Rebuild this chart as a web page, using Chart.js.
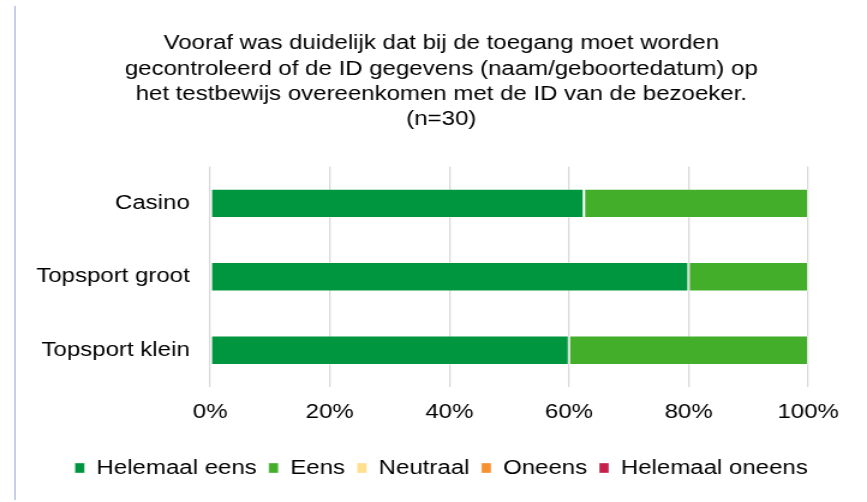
<!DOCTYPE html>
<html lang="nl">
<head>
<meta charset="utf-8">
<title>Toegangscontrole ID</title>
<script src="https://cdn.jsdelivr.net/npm/chart.js@4.4.1/dist/chart.umd.min.js"></script>
<style>
  html, body { margin: 0; padding: 0; background: #fff; overflow: hidden; }
  #wrap { position: relative; width: 867px; height: 502px; }
  /* het origineel is horizontaal iets uitgerekt; canvas op 722 breed tekenen en rekken naar 867 */
  #grafiek { width: 867px !important; height: 502px !important; display: block; }
</style>
</head>
<body>
<div id="wrap"><canvas id="grafiek" width="722" height="502" style="width:867px;height:502px"></canvas></div>
<script>
// Data
const categorieen = ['Casino', 'Topsport groot', 'Topsport klein'];
const helemaalEens = [62.5, 80, 60];
const eens = [37.5, 20, 40];
const neutraal = [0, 0, 0];
const oneens = [0, 0, 0];
const helemaalOneens = [0, 0, 0];
const xTicks = [0, 20, 40, 60, 80, 100];
const titelRegels = [
    'Vooraf was duidelijk dat bij de toegang moet worden',
    'gecontroleerd of de ID gegevens (naam/geboortedatum) op',
    'het testbewijs overeenkomen met de ID van de bezoeker.',
    '(n=30)'
];

const lettertype = "'Liberation Sans', Arial, sans-serif";

// dunne lijn links, zoals in het origineel
const randLijn = {
    id: 'randLijn',
    afterDraw(chart) {
        const ctx = chart.ctx;
        ctx.save();
        ctx.strokeStyle = '#9fb3d6';
        ctx.lineWidth = 1;
        ctx.beginPath();
        ctx.moveTo(12.5, 6);
        ctx.lineTo(12.5, chart.height - 2);
        ctx.stroke();
        ctx.restore();
    }
};

function reeks(label, data, kleur) {
    return {
        label: label,
        data: data,
        backgroundColor: kleur,
        borderColor: 'rgba(255,255,255,0.35)',
        borderWidth: 1,
        borderSkipped: false,
        barPercentage: 0.4,
        categoryPercentage: 1
    };
}

document.addEventListener('DOMContentLoaded', function() {
    const ctx = document.getElementById('grafiek').getContext('2d');
    new Chart(ctx, {
        type: 'bar',
        data: {
            labels: categorieen,
            datasets: [
                reeks('Helemaal eens', helemaalEens, '#009640'),
                reeks('Eens', eens, '#43ae2a'),
                reeks('Neutraal', neutraal, '#ffe08e'),
                reeks('Oneens', oneens, '#f7902f'),
                reeks('Helemaal oneens', helemaalOneens, '#c51f4a')
            ]
        },
        options: {
            indexAxis: 'y',
            responsive: false,
            animation: false,
            devicePixelRatio: 1,
            layout: { padding: { left: 13, right: 0, top: 0, bottom: 14 } },
            scales: {
                x: {
                    stacked: true,
                    min: 0,
                    max: 100,
                    afterBuildTicks(axis) {
                        axis.ticks = xTicks.map(v => ({ value: v }));
                    },
                    afterFit(axis) { axis.height += 11; },
                    grid: { color: '#d9d9d9', lineWidth: 1.3, drawTicks: false },
                    border: { display: false },
                    ticks: {
                        padding: 13,
                        color: '#000',
                        font: { family: lettertype, size: 20 },
                        callback: v => v + '%'
                    }
                },
                y: {
                    stacked: true,
                    afterFit(axis) { axis.width = 162; },
                    grid: { display: false, drawTicks: false },
                    border: { display: false },
                    ticks: {
                        padding: 17,
                        color: '#000',
                        font: { family: lettertype, size: 20 }
                    }
                },
                // lege as rechts, alleen om ruimte te houden
                rechts: {
                    axis: 'y',
                    type: 'category',
                    position: 'right',
                    afterFit(axis) { axis.width = 49; },
                    grid: { display: false, drawTicks: false },
                    border: { display: false },
                    ticks: { display: false }
                }
            },
            plugins: {
                title: {
                    display: true,
                    text: titelRegels,
                    color: '#000',
                    font: { family: lettertype, size: 20, weight: 'normal', lineHeight: 1.27 },
                    padding: { top: 31, bottom: 34 }
                },
                legend: {
                    position: 'bottom',
                    labels: {
                        boxWidth: 8,
                        boxHeight: 10,
                        padding: 10,
                        color: '#000',
                        font: { family: lettertype, size: 20 }
                    }
                },
                tooltip: { enabled: false }
            }
        },
        plugins: [randLijn]
    });
});
</script>
</body>
</html>
